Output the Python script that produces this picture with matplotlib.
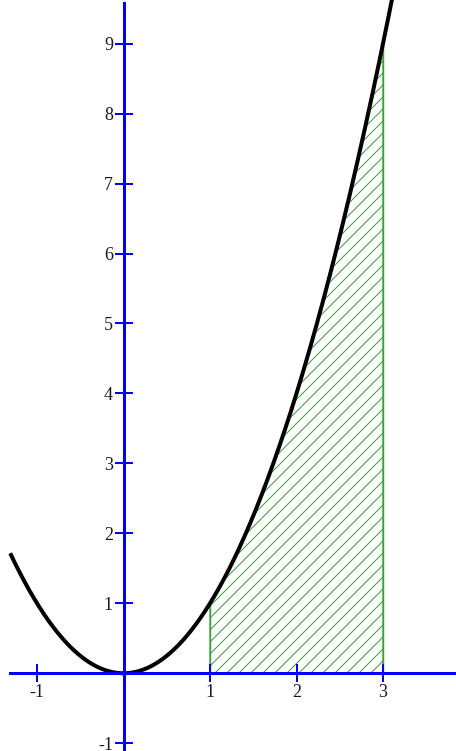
import numpy as np
import matplotlib
matplotlib.use("Agg")
import matplotlib.pyplot as plt

plt.rcParams['font.family'] = ['Liberation Serif', 'DejaVu Serif']
plt.rcParams['hatch.linewidth'] = 1.0

# Data
curve_x_start = -1.31
curve_x_end = 3.15
area_x_start = 1
area_x_end = 3
x_ticks = [-1, 1, 2, 3]
y_ticks = [-1, 1, 2, 3, 4, 5, 6, 7, 8, 9]

def f(x):
    return x ** 2

DPI = 72
fig = plt.figure(figsize=(456 / DPI, 751 / DPI), dpi=DPI)
ax = fig.add_axes([0, 0, 1, 1])
ax.set_xlim(-1.428, 3.844)
ax.set_ylim(-1.111, 9.624)

green = '#3a9e3a'
xs_area = np.linspace(area_x_start, area_x_end, 200)
ax.fill_between(xs_area, 0, f(xs_area), facecolor='none', edgecolor=green,
                hatch='//', linewidth=1.2, zorder=1)
ax.plot([area_x_start, area_x_start], [0, f(area_x_start)], color=green, lw=1.4, zorder=1.5)
ax.plot([area_x_end, area_x_end], [0, f(area_x_end)], color=green, lw=1.4, zorder=1.5)

xs = np.linspace(curve_x_start, curve_x_end, 400)
ax.plot(xs, f(xs), color='black', lw=4, zorder=2, solid_capstyle='butt')

for s in ['top', 'right']:
    ax.spines[s].set_visible(False)
ax.spines['left'].set_position(('data', 0))
ax.spines['bottom'].set_position(('data', 0))
for s in ['left', 'bottom']:
    ax.spines[s].set_color('#0000ff')
    ax.spines[s].set_linewidth(3)
    ax.spines[s].set_zorder(3)
ax.spines['bottom'].set_bounds(-1.312, 3.844)
ax.spines['left'].set_bounds(-1.111, 9.58)

ax.set_xticks(x_ticks)
ax.set_yticks(y_ticks)
ax.set_xticklabels([str(v) for v in x_ticks])
ax.set_yticklabels([str(v) for v in y_ticks])
ax.tick_params(direction='inout', length=18, width=2, color='#0000ff',
               labelsize=18, labelcolor='#1a1a1a', pad=1.5)
ax.patch.set_visible(False)

fig.savefig('out.png', dpi=DPI)
